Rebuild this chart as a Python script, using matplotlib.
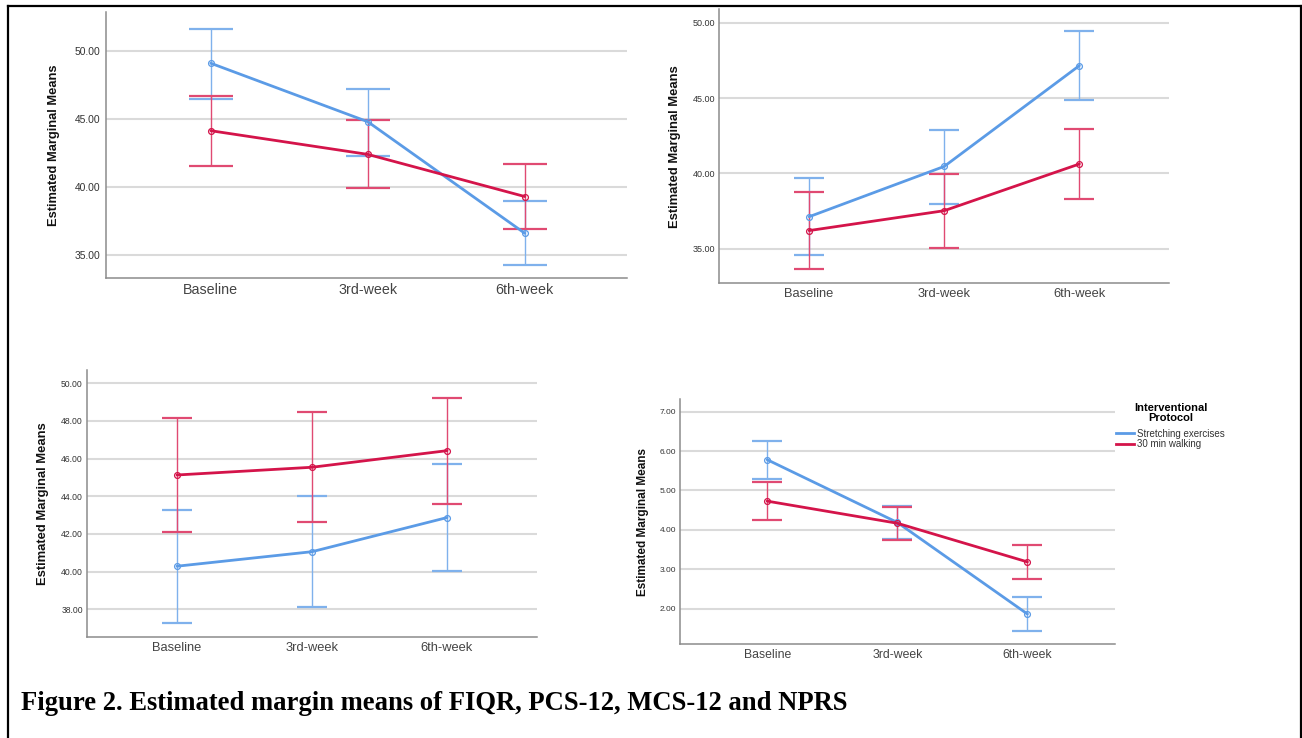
import matplotlib
matplotlib.use("Agg")
import matplotlib.pyplot as plt
from matplotlib.lines import Line2D

# ---------------- data ----------------
categories = ["Baseline", "3rd-week", "6th-week"]
series_names = ["Stretching exercises", "30 min walking"]

# FIQR
fiqr_stretch = [49.1, 44.8, 36.6]
fiqr_stretch_lo = [46.5, 42.3, 34.26]
fiqr_stretch_hi = [51.64, 47.2, 39.0]
fiqr_walk = [44.14, 42.4, 39.3]
fiqr_walk_lo = [41.57, 39.9, 36.93]
fiqr_walk_hi = [46.7, 44.9, 41.7]

# PCS-12
pcs_stretch = [37.12, 40.46, 47.15]
pcs_stretch_lo = [34.58, 37.98, 44.87]
pcs_stretch_hi = [39.67, 42.9, 49.47]
pcs_walk = [36.2, 37.52, 40.62]
pcs_walk_lo = [33.63, 35.05, 38.3]
pcs_walk_hi = [38.74, 39.97, 42.94]

# MCS-12
mcs_stretch = [40.29, 41.06, 42.87]
mcs_stretch_lo = [37.26, 38.14, 40.05]
mcs_stretch_hi = [43.29, 44.0, 45.71]
mcs_walk = [45.13, 45.54, 46.42]
mcs_walk_lo = [42.09, 42.62, 43.61]
mcs_walk_hi = [48.14, 48.46, 49.24]

# NPRS
nprs_stretch = [5.78, 4.19, 1.87]
nprs_stretch_lo = [5.29, 3.76, 1.43]
nprs_stretch_hi = [6.26, 4.60, 2.30]
nprs_walk = [4.73, 4.17, 3.19]
nprs_walk_lo = [4.26, 3.75, 2.75]
nprs_walk_hi = [5.22, 4.58, 3.63]

ylabel_text = "Estimated Marginal Means"
legend_title = "Interventional\nProtocol"
caption = "Figure 2. Estimated margin means of FIQR, PCS-12, MCS-12 and NPRS"

# ---------------- style ----------------
W, H = 1302, 738
BLUE = "#5b9be6"
BLUE_E = "#7fb1ec"
RED = "#d4144a"
RED_E = "#e04a72"
GRID = "#dadada"
SANS = ["Liberation Sans", "DejaVu Sans"]
NARROW = ["Liberation Sans Narrow", "Liberation Sans", "DejaVu Sans"]

fig = plt.figure(figsize=(W / 100, H / 100), dpi=100)


def px_axes(left, right, top, bottom):
    return fig.add_axes([left / W, 1 - bottom / H, (right - left) / W, (bottom - top) / H])


panels = [
    dict(box=(105.7, 626.8, 12, 278), ylim=(33.31, 52.87), xlim=(-0.67, 2.65),
         yticks=[35, 40, 45, 50],
         data=(fiqr_stretch, fiqr_stretch_lo, fiqr_stretch_hi, fiqr_walk, fiqr_walk_lo, fiqr_walk_hi),
         xfs=10.3, yfs=7.4, cap=16.0, ylx=54, ylfs=9.3, ypad=3.6),
    dict(box=(718.6, 1168.5, 9.3, 283), ylim=(32.72, 50.89), xlim=(-0.67, 2.66),
         yticks=[35, 40, 45, 50],
         data=(pcs_stretch, pcs_stretch_lo, pcs_stretch_hi, pcs_walk, pcs_walk_lo, pcs_walk_hi),
         xfs=9.3, yfs=6.5, cap=10.8, ylx=675, ylfs=9.4, ypad=2.4),
    dict(box=(87, 537, 370, 636.7), ylim=(36.55, 50.7), xlim=(-0.667, 2.667),
         yticks=[38, 40, 42, 44, 46, 48, 50],
         data=(mcs_stretch, mcs_stretch_lo, mcs_stretch_hi, mcs_walk, mcs_walk_lo, mcs_walk_hi),
         xfs=9.3, yfs=6.2, cap=10.6, ylx=43.5, ylfs=9.4, ypad=3.0),
    dict(box=(680, 1114.6, 399.3, 644), ylim=(1.11, 7.31), xlim=(-0.67, 2.67),
         yticks=[2, 3, 4, 5, 6, 7],
         data=(nprs_stretch, nprs_stretch_lo, nprs_stretch_hi, nprs_walk, nprs_walk_lo, nprs_walk_hi),
         xfs=8.8, yfs=6.0, cap=10.5, ylx=642.6, ylfs=8.5, ypad=2.6),
]

axes = []
for p in panels:
    l, r, t, b = p["box"]
    ax = px_axes(l, r, t, b)
    axes.append(ax)
    x = list(range(len(categories)))
    s, slo, shi, w, wlo, whi = p["data"]
    for vals, lo, hi, col, ecol, z in ((s, slo, shi, BLUE, BLUE_E, 3), (w, wlo, whi, RED, RED_E, 4)):
        yerr = [[v - a for v, a in zip(vals, lo)], [c - v for v, c in zip(vals, hi)]]
        ax.errorbar(x, vals, yerr=yerr, fmt="none", ecolor=ecol, elinewidth=1.0,
                    capsize=p["cap"], capthick=1.6, zorder=z)
        ax.plot(x, vals, color=col, lw=2.0, marker="o", ms=4.2, mfc="none",
                mec=col, mew=0.9, zorder=z + 2, solid_capstyle="round")
    ax.set_xlim(*p["xlim"])
    ax.set_ylim(*p["ylim"])
    ax.set_xticks(x)
    ax.set_xticklabels(categories, fontfamily=SANS, fontsize=p["xfs"], color="#444444")
    ax.set_yticks(p["yticks"])
    ax.set_yticklabels([f"{v:.2f}" for v in p["yticks"]], fontfamily=SANS,
                       fontsize=p["yfs"], color="#333333")
    ax.tick_params(axis="both", length=0)
    ax.tick_params(axis="y", pad=p["ypad"])
    ax.tick_params(axis="x", pad=3.5)
    ax.grid(axis="y", color=GRID, lw=1.5)
    ax.set_axisbelow(True)
    for sp in ("top", "right"):
        ax.spines[sp].set_visible(False)
    for sp in ("left", "bottom"):
        ax.spines[sp].set_color("#8c8c8c")
        ax.spines[sp].set_linewidth(1.1)
    fig.text(p["ylx"] / W, 1 - ((t + b) / 2) / H, ylabel_text, rotation=90,
             ha="center", va="center", fontfamily=NARROW, fontweight="bold",
             fontsize=p["ylfs"], color="#111111")

# legend for the last panel
handles = [Line2D([0], [0], color=BLUE, lw=2.0), Line2D([0], [0], color=RED, lw=2.0)]
leg = fig.legend(handles, series_names, loc="upper left",
                 bbox_to_anchor=(1116 / W, 1 - 403 / H), frameon=False,
                 borderpad=0, borderaxespad=0, handlelength=1.85, handletextpad=0.35,
                 labelspacing=0.05, prop={"family": SANS, "size": 7.0},
                 title=legend_title,
                 title_fontproperties={"family": SANS, "weight": "bold", "size": 8.0})
leg.get_title().set_multialignment("center")
leg.get_title().set_linespacing(0.95)
leg._legend_box.align = "center"
leg._legend_box.sep = 4.5
for txt in leg.get_texts():
    txt.set_color("#333333")

# caption
fig.text(21 / W, 1 - 710 / H, caption, ha="left", va="baseline",
         fontfamily=["Liberation Serif", "DejaVu Serif"], fontweight="bold", fontsize=19.2,
         color="black")

# frame
frame_kw = dict(color="black", lw=1.6, transform=fig.transFigure, clip_on=False)
fig.add_artist(Line2D([7.5 / W, 1300.5 / W], [1 - 5.6 / H, 1 - 5.6 / H], **frame_kw))
fig.add_artist(Line2D([7.5 / W, 7.5 / W], [0, 1 - 5.6 / H], **frame_kw))
fig.add_artist(Line2D([1300.5 / W, 1300.5 / W], [0, 1 - 5.6 / H], **frame_kw))

fig.savefig("out.png", dpi=100, facecolor="white")
